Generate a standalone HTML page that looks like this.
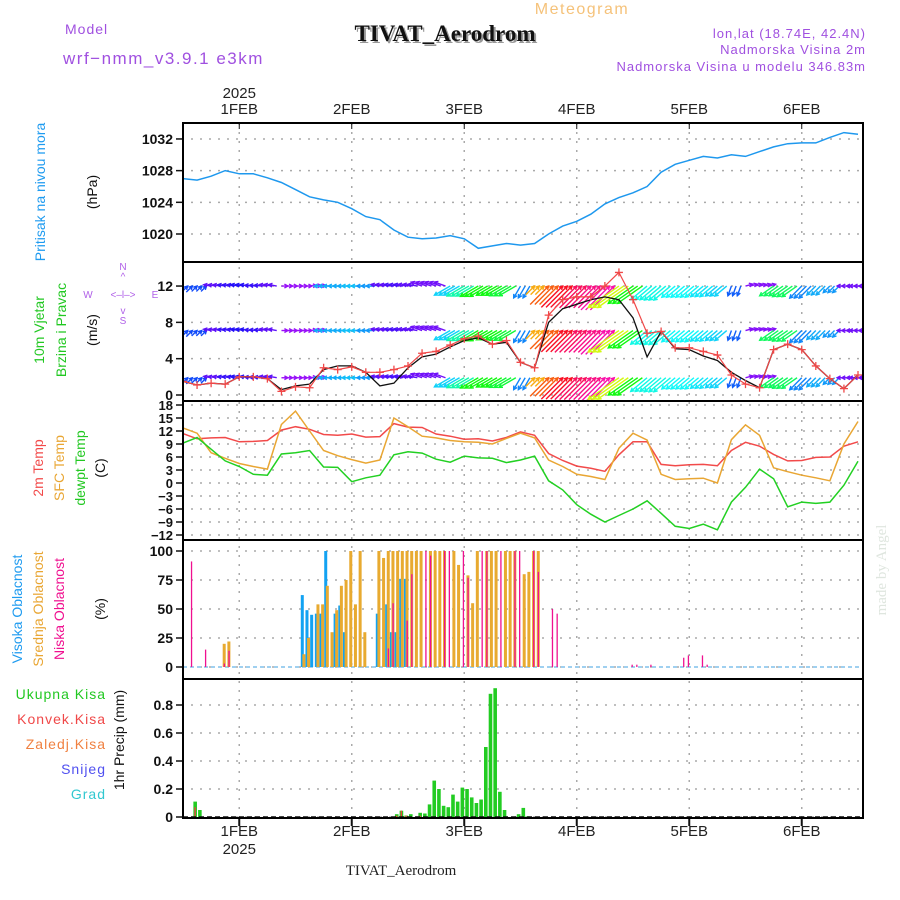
<!DOCTYPE html>
<html><head><meta charset="utf-8"><style>
body{margin:0;background:#fff;}
svg{display:block;font-family:"Liberation Sans",sans-serif;}
</style></head><body>
<svg id="c" width="900" height="900" viewBox="0 0 900 900" xmlns="http://www.w3.org/2000/svg">
<rect width="900" height="900" fill="#fff"/>
<text x="582" y="14" font-size="16" fill="#f5c27a" text-anchor="middle" letter-spacing="1.5">Meteogram</text>
<text x="65" y="34" font-size="14" fill="#a050e0" letter-spacing="1">Model</text>
<text x="63" y="64" font-size="17" fill="#a050e0" letter-spacing="1.5">wrf−nmm_v3.9.1 e3km</text>
<text x="447" y="43" font-size="23" font-weight="bold" fill="#999" text-anchor="middle" font-family="Liberation Serif,serif">TIVAT_Aerodrom</text>
<text x="445" y="41" font-size="23" font-weight="bold" fill="#111" text-anchor="middle" font-family="Liberation Serif,serif">TIVAT_Aerodrom</text>
<text x="866" y="38" font-size="13" fill="#a050e0" text-anchor="end" letter-spacing="1">lon,lat (18.74E, 42.4N)</text>
<text x="866" y="54" font-size="13" fill="#a050e0" text-anchor="end" letter-spacing="1">Nadmorska Visina 2m</text>
<text x="866" y="71" font-size="13" fill="#a050e0" text-anchor="end" letter-spacing="1">Nadmorska Visina u modelu 346.83m</text>
<text x="401" y="875" font-size="15" fill="#222" text-anchor="middle" font-family="Liberation Serif,serif">TIVAT_Aerodrom</text>
<text transform="translate(886,570) rotate(-90)" font-size="15" fill="#dfe6df" text-anchor="middle" font-family="Liberation Serif,serif">made by Angel</text>
<g id="g"></g>
</svg>
<script>
// ---------- data ----------
const dayLabels = ["1FEB","2FEB","3FEB","4FEB","5FEB","6FEB"];
const dayHours = [12,36,60,84,108,132];
const hours3 = [0,3,6,9,12,15,18,21,24,27,30,33,36,39,42,45,48,51,54,57,60,63,66,69,72,75,78,81,84,87,90,93,96,99,102,105,108,111,114,117,120,123,126,129,132,135,138,141,144];
const pressure = [1027,1026.8,1027.3,1028,1027.6,1027.6,1027.1,1026.5,1025.6,1024.7,1024.3,1024,1023.2,1022.2,1021.8,1020.5,1019.6,1019.4,1019.5,1019.8,1019.4,1018.2,1018.5,1018.8,1018.6,1018.8,1020,1021,1021.6,1022.5,1023.8,1024.6,1025.2,1026,1027.8,1028.8,1029.3,1029.8,1029.6,1030,1029.8,1030.4,1031,1031.4,1031.5,1031.5,1032.2,1032.8,1032.6];
const pressureTicks = [1020,1024,1028,1032];
const windSpeed = [1.5,1.1,1.3,1.2,2.0,2.0,1.8,0.4,0.9,0.8,3.0,2.8,3.1,2.5,2.5,2.8,3.2,4.6,4.8,5.5,6.2,6.5,5.6,6.0,3.6,3.0,8.8,10.5,10.8,10.8,12,13.5,10.5,6.8,7.0,5.2,5.2,4.8,4.4,2.2,1.2,0.8,5.0,5.6,5.0,3.2,1.8,0.7,2.2];
const windModel = [1.5,1.1,1.3,1.2,2.0,2.0,1.8,0.6,1.0,1.2,2.8,3.2,3.2,2.5,1.0,1.3,3.0,4.2,4.5,5.3,6.0,6.3,5.6,5.8,3.6,3.0,8.0,9.5,10.0,10.5,10.8,10.5,8.5,4.2,7.0,5.1,5.0,4.3,3.8,2.5,1.6,0.8,5.0,5.6,5.0,3.2,1.8,0.7,2.2];
const windAngle = [45,45,170,170,170,175,170,0,0,5,180,180,180,180,170,170,170,160,160,210,210,210,210,210,240,45,45,45,45,45,45,215,215,220,220,220,220,220,220,250,15,15,215,215,225,225,225,180,180];
const windHue = [225,225,260,250,245,250,260,275,275,275,200,200,195,205,260,255,260,265,265,190,160,120,120,130,210,40,20,355,340,330,320,70,120,175,175,180,180,185,190,220,270,270,140,140,210,200,205,265,265];
const windTicks = [0,4,8,12];
const temp2m = [11.4,10.2,10.4,10.5,9.5,9.6,9.8,12.2,13,12.4,11.2,11,11.3,10.6,10.7,13.7,12.9,12.8,11.3,10.8,10.1,10.2,9.7,10.5,11.8,11,6.8,5.2,3.9,3.4,2.7,6.5,9.5,9.5,4.3,4.0,4.2,4.3,4.0,7.5,9.4,8.5,6.6,5.1,5.2,5.9,6.0,8.5,9.5];
const tempSfc = [12.7,11.5,7,5.7,4.5,3.8,3.2,13.5,16.6,12,7.5,6.3,5.4,4.6,5.3,15,13,10.8,10.4,9.8,9.5,9.4,9.0,10.3,11.5,10.4,5.3,3.8,2.0,1.5,0.8,8.0,11.5,9.9,2.0,0.8,1.0,1.1,0,10,13.4,11,3.5,2.6,1.8,1.2,0.5,9,14.2];
const tempDew = [9.2,10.5,7.8,5.1,3.8,2.0,1.8,6.7,7.0,7.5,3.7,3.6,0.3,1.2,1.8,6.5,7.2,6.9,5.5,4.8,6.2,5.8,5.7,4.7,5.3,6.2,0.5,-1.6,-5,-7.2,-9.0,-7.5,-6,-4.1,-7,-10,-10.5,-9.5,-10.8,-4.4,-1,3.2,1,-5.5,-4.4,-4.7,-4.4,-0.5,5];
const tempTicks = [-12,-9,-6,-3,0,3,6,9,12,15,18];
const cloudHighHours = [25,26,27,28,29,30,32,33,34,41,43,44,45,46,47];
const cloudHigh = [62,49,45,46,46,100,46,53,30,46,54,30,30,76,76];
const cloudMidHours = [8,9,25,26,28,29,30,31,32,33,34,35,36,37,38,41,42,43,44,45,46,47,48,49,50,52,53,54,55,57,58,60,61,62,64,65,66,68,69,70,72,73,74,75];
const cloudMid = [20,22,11,25,54,54,70,30,49,70,75,100,54,100,30,100,94,100,100,100,100,100,100,100,100,100,100,100,100,100,88,79,55,100,100,100,100,100,100,100,80,82,100,100];
const cloudLowHours = [1,4,8,9,43,44,47,48,51,52,55,56,59,60,63,64,67,70,71,74,75,78,79,95,96,99,106,107,110,111];
const cloudLow = [91,15,3,14,16,55,40,80,100,96,100,100,100,77,100,100,100,100,100,100,82,50,46,2,2,2,8,10,10,2];
const cloudTicks = [0,25,50,75,100];
const precipHours = [2,3,45,46,47,48,50,51,52,53,54,55,56,57,58,59,60,61,62,63,64,65,66,67,68,71,72,73];
const precipTotal = [0.11,0.05,0.02,0.045,0.01,0.02,0.03,0.025,0.09,0.26,0.20,0.08,0.07,0.16,0.11,0.21,0.20,0.14,0.10,0.125,0.50,0.88,0.92,0.18,0.05,0.02,0.065,0.005];
const precipConv = [0.07,0,0.01,0.045,0.01,0,0.01,0,0,0,0,0,0,0,0,0,0,0,0,0,0,0,0,0,0,0,0,0];
const precipTicks = [0,0.2,0.4,0.6,0.8];
const precipTickLabels = ["0","0.2","0.4","0.6","0.8"];

// ---------- layout ----------
const X0 = 183, X1 = 863, PXH = 4.6875;
const xh = h => X0 + h * PXH;
const yP = v => 234 - (v - 1020) * 7.92;
const yW = v => 395 - v * 9.08;
const yT = v => 483 - v * 4.333;
const yC = v => 667 - v * 1.16;
const yR = v => 817 - v * 140;
const NS = "http://www.w3.org/2000/svg";
const G = document.getElementById('g');
function mk(tag, attrs, parent) {
  const e = document.createElementNS(NS, tag);
  for (const k in attrs) e.setAttribute(k, attrs[k]);
  (parent || G).appendChild(e);
  return e;
}
const panels = [[123,262],[262,401],[401,540],[540,679],[679,818]];
panels.forEach((p, i) => {
  const cp = mk('clipPath', {id: 'cp' + i});
  mk('rect', {x: X0, y: p[0], width: X1 - X0, height: p[1] - p[0]}, cp);
});
// grid
const grid = mk('g', {stroke: '#aaa', 'stroke-width': 1.5, 'stroke-dasharray': '2,7'});


dayHours.forEach(h => { mk('line', {x1: xh(h), x2: xh(h), y1: 123, y2: 818}, grid); });
function hgrid(ticks, fy) {
  ticks.forEach(v => { mk('line', {x1: X0 + 8, x2: X1, y1: fy(v), y2: fy(v)}, grid); });
}
hgrid(pressureTicks, yP); hgrid(windTicks, yW); hgrid(tempTicks, yT); hgrid(cloudTicks, yC); hgrid(precipTicks, yR);

function ylabels(ticks, fy, name, labels, fs) {
  const g = mk('g', {'font-size': fs || 14, 'font-weight': 'bold', fill: '#111', 'text-anchor': 'end'});
  
  
  ticks.forEach((v, i) => {
    const t = mk('text', {x: 173, y: fy(v) + 5}, g);
    t.textContent = labels ? labels[i] : String(v).replace('-', '−');
    mk('line', {x1: 176, x2: 183, y1: fy(v), y2: fy(v), stroke: '#111', 'stroke-width': 1.5}, g);
  });
}
ylabels(pressureTicks, yP, 'pressure-y-ticks');
ylabels(windTicks, yW, 'wind-y-ticks');
ylabels(tempTicks, yT, 'temp-y-ticks', null, 13);
ylabels(cloudTicks, yC, 'cloud-y-ticks');
ylabels(precipTicks, yR, 'precip-y-ticks', precipTickLabels);

const xl = mk('g', {'font-size': 15, fill: '#222', 'text-anchor': 'middle'});


dayLabels.forEach((d, i) => {
  const t1 = mk('text', {x: xh(dayHours[i]), y: 114}, xl); t1.textContent = d;
  const t2 = mk('text', {x: xh(dayHours[i]), y: 836}, xl); t2.textContent = d;
  mk('line', {x1: xh(dayHours[i]), x2: xh(dayHours[i]), y1: 123, y2: 129, stroke: '#111'}, xl);
  mk('line', {x1: xh(dayHours[i]), x2: xh(dayHours[i]), y1: 818, y2: 826, stroke: '#111', 'stroke-width': 2}, xl);
});
const y1 = mk('text', {x: xh(12), y: 98}, xl); y1.textContent = '2025';
const y2 = mk('text', {x: xh(12), y: 854}, xl); y2.textContent = '2025';

function poly(vals, fy, color, name, pi, w) {
  const pts = vals.map((v, i) => xh(hours3[i]).toFixed(1) + ',' + fy(v).toFixed(1)).join(' ');
  const p = mk('polyline', {points: pts, fill: 'none', stroke: color, 'stroke-width': w || 1.5, 'clip-path': 'url(#cp' + pi + ')'});
  
  
  return p;
}
poly(pressure, yP, '#1e98ee', 'pressure-line', 0);

// wind arrows
const wg = mk('g', {'clip-path': 'url(#cp1)', 'stroke-width': 1.4, fill: 'none'});


const rows = [12, 7.1, 1.9];
windAngle.forEach((a, i) => {
  const col = 'hsl(' + windHue[i] + ',95%,52%)';
  const horiz = Math.abs(Math.sin(a * Math.PI / 180)) < 0.4;
  const len = horiz ? 6 + windSpeed[i] * 1.2 : 5 + windSpeed[i] * 2.4;
  const r = a * Math.PI / 180;
  const dx = len * Math.cos(r), dy = -len * Math.sin(r);
  for (let k = 0; k < 3; k++) {
    const x = xh(hours3[i] + k);
    rows.forEach(rv => {
      const y = yW(rv);
      let sx, sy, ex, ey;
      if (dy < -1 && !horiz) { sx = x - dx; sy = y - dy; ex = x; ey = y; }
      else { sx = x; sy = y; ex = x + dx; ey = y + dy; }
      mk('line', {x1: sx, y1: sy, x2: ex, y2: ey, stroke: col}, wg);
      const hr = Math.atan2(ey - sy, ex - sx);
      mk('polyline', {points: (ex - 4 * Math.cos(hr - 0.5)) + ',' + (ey - 4 * Math.sin(hr - 0.5)) + ' ' + ex + ',' + ey + ' ' + (ex - 4 * Math.cos(hr + 0.5)) + ',' + (ey - 4 * Math.sin(hr + 0.5)), stroke: col}, wg);
    });
  }
});
poly(windModel, yW, '#111', 'wind-speed-model-line', 1, 1.3);
poly(windSpeed, yW, '#f04848', 'wind-speed-line', 1, 1.2);
const wm = mk('g', {stroke: '#f04848', 'stroke-width': 1.3, 'clip-path': 'url(#cp1)'});


windSpeed.forEach((v, i) => {
  const x = xh(hours3[i]), y = yW(v);
  mk('path', {d: 'M' + (x - 4) + ' ' + y + 'h8M' + x + ' ' + (y - 4) + 'v8'}, wm);
});

poly(temp2m, yT, '#f24a4a', 'temp-2m-line', 2);
poly(tempSfc, yT, '#e9a633', 'temp-sfc-line', 2);
poly(tempDew, yT, '#22d022', 'dewpoint-line', 2);

const cg = mk('g', {'clip-path': 'url(#cp3)'});


mk('line', {x1: X0, x2: X1, y1: yC(0), y2: yC(0), stroke: '#9fd0f0', 'stroke-width': 2, 'stroke-dasharray': '4,3'}, cg);
function cbars(hrs, vals, color, off, w, name) {
  hrs.forEach((h, i) => {
    const r = mk('rect', {x: xh(h) + off, y: yC(vals[i]), width: w, height: yC(0) - yC(vals[i]), fill: color}, cg);
    
    
  });
}
cbars(cloudHighHours, cloudHigh, '#12a2f2', 0.6, 3, 'high-cloud-bar');
cbars(cloudMidHours, cloudMid, '#e8aa30', 2.2, 3, 'mid-cloud-bar');
cbars(cloudLowHours, cloudLow, '#f01090', 3.2, 1.3, 'low-cloud-bar');

const pg = mk('g', {'clip-path': 'url(#cp4)'});


precipHours.forEach((h, i) => {
  const r = mk('rect', {x: xh(h) + 1, y: yR(precipTotal[i]), width: 3.6, height: yR(0) - yR(precipTotal[i]), fill: '#22cc22'}, pg);
  
  
  if (precipConv[i] > 0) {
    const c = mk('rect', {x: xh(h) + 2, y: yR(precipConv[i]), width: 1.4, height: yR(0) - yR(precipConv[i]), fill: '#f04040'}, pg);
    
    
  }
});
mk('line', {x1: X0, x2: X1, y1: 817, y2: 817, stroke: '#111', 'stroke-width': 1.5, 'stroke-dasharray': '5,3'}, pg);

panels.forEach((p) => {
  const r = mk('rect', {x: X0, y: p[0], width: X1 - X0, height: p[1] - p[0], fill: 'none', stroke: '#000', 'stroke-width': 2});
  
  
});

function vt(x, y, s, color, name, fs) {
  const t = mk('text', {transform: 'translate(' + x + ',' + y + ') rotate(-90)', 'font-size': fs || 14, fill: color, 'text-anchor': 'middle'});
  t.textContent = s;
  
  
}
vt(45, 192, 'Pritisak na nivou mora', '#1e9bf0', 'pressure-title');
vt(97, 192, '(hPa)', '#111', 'pressure-unit');
vt(44, 330, '10m Vjetar', '#22c822', 'wind-title');
vt(66, 330, 'Brzina i Pravac', '#22c822', 'wind-subtitle');
vt(97, 330, '(m/s)', '#111', 'wind-unit');
vt(43, 468, '2m Temp', '#f24a4a', 'temp-2m-title');
vt(64, 468, 'SFC Temp', '#e9a633', 'temp-sfc-title');
vt(85, 468, 'dewpt Temp', '#22c822', 'dewpoint-title');
vt(105, 468, '(C)', '#111', 'temp-unit');
vt(22, 609, 'Visoka Oblacnost', '#1e9bf0', 'high-cloud-title');
vt(43, 609, 'Srednja Oblacnost', '#e9a633', 'mid-cloud-title');
vt(64, 609, 'Niska Oblacnost', '#f01090', 'low-cloud-title');
vt(105, 609, '(%)', '#111', 'cloud-unit');
vt(124, 740, '1hr Precip (mm)', '#111', 'precip-title');
const comp = mk('g', {fill: '#b060e8', 'font-size': 10, 'text-anchor': 'middle'});


[[123,270,'N'],[123,280,'^'],[123,324,'S'],[123,314,'v'],[88,298,'W'],[155,298,'E'],[123,298,'<–l–>']].forEach(c => {
  const t = mk('text', {x: c[0], y: c[1]}, comp); t.textContent = c[2];
});
const legend = [['Ukupna Kisa','#22c822',699],['Konvek.Kisa','#f04848',724],['Zaledj.Kisa','#f08040',749],['Snijeg','#5050f0',774],['Grad','#30c8d0',799]];
legend.forEach(l => {
  const t = mk('text', {x: 106, y: l[2], 'font-size': 14, fill: l[1], 'text-anchor': 'end', 'letter-spacing': 1});
  t.textContent = l[0];
  
  
});
</script>
</body></html>
